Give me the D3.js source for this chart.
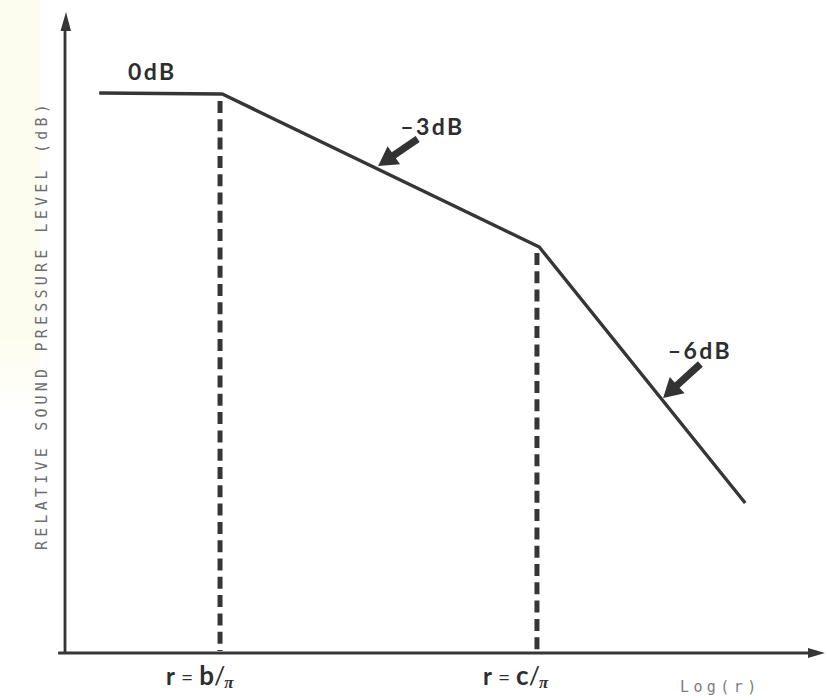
<!DOCTYPE html>
<html>
<head>
<meta charset="utf-8">
<script src="https://cdn.jsdelivr.net/npm/d3@7"></script>
<style>
  html, body { margin: 0; padding: 0; background: #ffffff; }
  svg { display: block; }
</style>
</head>
<body>
<script>
// Piecewise attenuation of sound pressure level with log distance
const logR = [0.45, 2.07, 6.24, 8.95];
const levelDb = [0, -0.1, -15.4, -41.0];

// Transition distances marked with dashed verticals
const breakLogR = [2.04, 6.21];
const breakLabels = ["b", "c"];

// Slope annotations: label anchor plus arrow tail/tip, in data units
const annLabels = ["0dB", "\u20133dB", "\u20136dB"];
const annLabelX = [0.83, 4.41, 7.93];
const annLabelY = [1.3, -4.2, -26.6];
const annArrowTail = [null, [4.64, -4.6], [8.36, -27.1]];
const annArrowTip = [null, [4.12, -7.3], [7.87, -30.5]];

const yTitle = "RELATIVE SOUND PRESSURE LEVEL (dB)";
const xTitle = "Log(r)";

const W = 827, H = 700;
const ink = "#363636";

const x = d3.scaleLinear().domain([0, 10]).range([65, 825]);
const y = d3.scaleLinear().domain([-56, 8]).range([653, 13]);

// level on the curve at a given log distance
const levelAt = d3.scaleLinear().domain(logR).range(levelDb);

const svg = d3.select("body").append("svg")
  .attr("width", W).attr("height", H);

// paper tint along the left margin
const defs = svg.append("defs");
const grad = defs.append("linearGradient").attr("id", "tint")
  .attr("x1", 0).attr("y1", 0).attr("x2", 0).attr("y2", 1);
grad.append("stop").attr("offset", "0").attr("stop-color", "#fdfdef");
grad.append("stop").attr("offset", "0.8").attr("stop-color", "#fdfdef");
grad.append("stop").attr("offset", "1").attr("stop-color", "#ffffff");
svg.append("rect").attr("x", 0).attr("y", 0).attr("width", 40).attr("height", 420)
  .attr("fill", "url(#tint)");

// axes with arrowheads
svg.append("line")
  .attr("x1", x(0)).attr("y1", y(-56))
  .attr("x2", x(0)).attr("y2", y(8) + 14)
  .attr("stroke", ink).attr("stroke-width", 2.8);
svg.append("path")
  .attr("d", `M${x(0) + 1},${y(8) - 1} L${x(0) - 4.5},${y(8) + 18} L${x(0) + 6},${y(8) + 18} Z`)
  .attr("fill", ink);

svg.append("line")
  .attr("x1", x(-0.09)).attr("y1", y(-56))
  .attr("x2", x(10) - 14).attr("y2", y(-56))
  .attr("stroke", ink).attr("stroke-width", 2.8);
svg.append("path")
  .attr("d", `M${x(10)},${y(-56)} L${x(10) - 17},${y(-56) - 5} L${x(10) - 17},${y(-56) + 5} Z`)
  .attr("fill", ink);

// dashed verticals from the curve down to the axis
svg.selectAll("line.brk").data(breakLogR).join("line")
  .attr("class", "brk")
  .attr("x1", d => x(d)).attr("x2", d => x(d))
  .attr("y1", d => y(levelAt(d)) + 7).attr("y2", y(-56) - 2)
  .attr("stroke", ink).attr("stroke-width", 5)
  .attr("stroke-dasharray", "12,6.3");

// level curve
const pts = logR.map((v, i) => [v, levelDb[i]]);
svg.append("path")
  .datum(pts)
  .attr("d", d3.line().x(d => x(d[0])).y(d => y(d[1])))
  .attr("fill", "none").attr("stroke", ink)
  .attr("stroke-width", 3.4).attr("stroke-linejoin", "round");

// slope labels
annLabels.forEach((t, i) => {
  svg.append("text")
    .attr("x", x(annLabelX[i])).attr("y", y(annLabelY[i]))
    .attr("font-family", "Lato, 'Open Sans', sans-serif")
    .attr("font-weight", 700).attr("font-size", 23)
    .attr("letter-spacing", 2.4)
    .attr("fill", "#2e2e2e")
    .text(t);
});

// block arrows pointing at the curve
annArrowTail.forEach((tail, i) => {
  if (!tail) return;
  const tip = annArrowTip[i];
  const x0 = x(tail[0]), y0 = y(tail[1]);
  const x1 = x(tip[0]), y1 = y(tip[1]);
  const dx = x1 - x0, dy = y1 - y0;
  const len = Math.hypot(dx, dy);
  const ux = dx / len, uy = dy / len;
  const nx = -uy, ny = ux;
  const headLen = 19, headHalf = 11, shaftHalf = 3.6;
  const bx = x1 - ux * headLen, by = y1 - uy * headLen;
  const p = [
    [x0 + nx * shaftHalf, y0 + ny * shaftHalf],
    [bx + nx * shaftHalf, by + ny * shaftHalf],
    [bx + nx * headHalf, by + ny * headHalf],
    [x1, y1],
    [bx - nx * headHalf, by - ny * headHalf],
    [bx - nx * shaftHalf, by - ny * shaftHalf],
    [x0 - nx * shaftHalf, y0 - ny * shaftHalf]
  ];
  svg.append("path")
    .attr("d", "M" + p.map(q => q.join(",")).join("L") + "Z")
    .attr("fill", "#333");
});

// labels under the dashed verticals: r = b/π, r = c/π
breakLogR.forEach((v, i) => {
  const t = svg.append("text")
    .attr("x", x(v) - 54).attr("y", y(-56) + 32)
    .attr("font-family", "Lato, 'Open Sans', sans-serif")
    .attr("fill", "#2e2e2e");
  t.append("tspan").attr("font-weight", 700).attr("font-size", 24).text("r");
  t.append("tspan").attr("dx", 6).attr("font-size", 21).text("=");
  t.append("tspan").attr("dx", 6).attr("font-weight", 700).attr("font-size", 26).text(breakLabels[i]);
  t.append("tspan").attr("dx", 0).attr("font-size", 25).text("/");
  t.append("tspan").attr("dx", -1).attr("dy", 3)
    .attr("font-family", "'Liberation Serif', serif").attr("font-style", "italic")
    .attr("font-weight", 700).attr("font-size", 17).text("\u03c0");
});

// axis titles
svg.append("text")
  .attr("transform", `translate(${47},${325}) rotate(-90)`)
  .attr("text-anchor", "middle")
  .attr("font-family", "'DejaVu Sans Mono', monospace")
  .attr("font-size", 15).attr("letter-spacing", 4.2)
  .attr("fill", "#6e6e6e")
  .text(yTitle);

svg.append("text")
  .attr("x", 680).attr("y", 692)
  .attr("font-family", "'DejaVu Sans Mono', monospace")
  .attr("font-size", 15).attr("letter-spacing", 4.4)
  .attr("fill", "#7c7c7c")
  .text(xTitle);
</script>
</body>
</html>
